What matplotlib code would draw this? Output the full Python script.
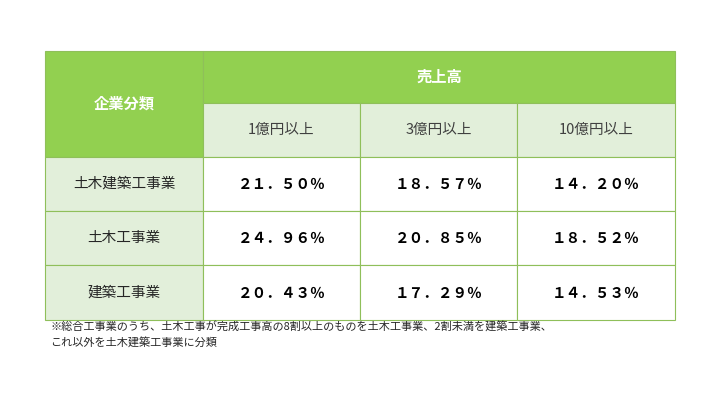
import matplotlib.pyplot as plt
from matplotlib.patches import Rectangle

plt.rcParams['font.family'] = ['Noto Sans CJK JP', 'DejaVu Sans']

categories = ['土木建築工事業', '土木工事業', '建築工事業']
size_labels = ['1億円以上', '3億円以上', '10億円以上']
values = [
    ['２１．５０％', '１８．５７％', '１４．２０％'],
    ['２４．９６％', '２０．８５％', '１８．５２％'],
    ['２０．４３％', '１７．２９％', '１４．５３％'],
]
note = ('※総合工事業のうち、土木工事が完成工事高の8割以上のものを土木工事業、2割未満を建築工事業、\n'
        'これ以外を土木建築工事業に分類')

DARK = '#92D050'
LIGHT = '#E2EFDA'
EDGE = '#8FBF5A'

fig = plt.figure(figsize=(7.2, 4.05), dpi=100)
ax = fig.add_axes([0, 0, 1, 1])
ax.set_xlim(0, 720)
ax.set_ylim(405, 0)
ax.axis('off')

xs = [45, 203, 360, 517, 675]
ys = [51, 103, 157, 211, 265, 320]

def cell(x0, x1, y0, y1, fc):
    ax.add_patch(Rectangle((x0, y0), x1 - x0, y1 - y0, facecolor=fc,
                           edgecolor=EDGE, linewidth=0.8))

# header
cell(xs[0], xs[1], ys[0], ys[2], DARK)
ax.text((xs[0] + xs[1]) / 2, (ys[0] + ys[2]) / 2, '企業分類', color='white',
        fontsize=11, fontweight='bold', ha='center', va='center')
cell(xs[1], xs[4], ys[0], ys[1], DARK)
ax.text((xs[1] + xs[4]) / 2, (ys[0] + ys[1]) / 2, '売上高', color='white',
        fontsize=11, fontweight='bold', ha='center', va='center')
for j, lab in enumerate(size_labels):
    cell(xs[j + 1], xs[j + 2], ys[1], ys[2], LIGHT)
    ax.text((xs[j + 1] + xs[j + 2]) / 2, (ys[1] + ys[2]) / 2, lab,
            color='#404040', fontsize=10.5, ha='center', va='center')

# body
for i, cat in enumerate(categories):
    y0, y1 = ys[i + 2], ys[i + 3]
    cell(xs[0], xs[1], y0, y1, LIGHT)
    ax.text((xs[0] + xs[1]) / 2, (y0 + y1) / 2, cat, color='#262626',
            fontsize=10.5, ha='center', va='center')
    for j, v in enumerate(values[i]):
        cell(xs[j + 1], xs[j + 2], y0, y1, 'white')
        ax.text((xs[j + 1] + xs[j + 2]) / 2, (y0 + y1) / 2, v, color='black',
                fontsize=10.5, fontweight='bold', ha='center', va='center')

ax.text(50, 322, note, fontsize=8, color='#262626', ha='left', va='top',
        linespacing=1.4)

fig.savefig('out.png', dpi=100)
